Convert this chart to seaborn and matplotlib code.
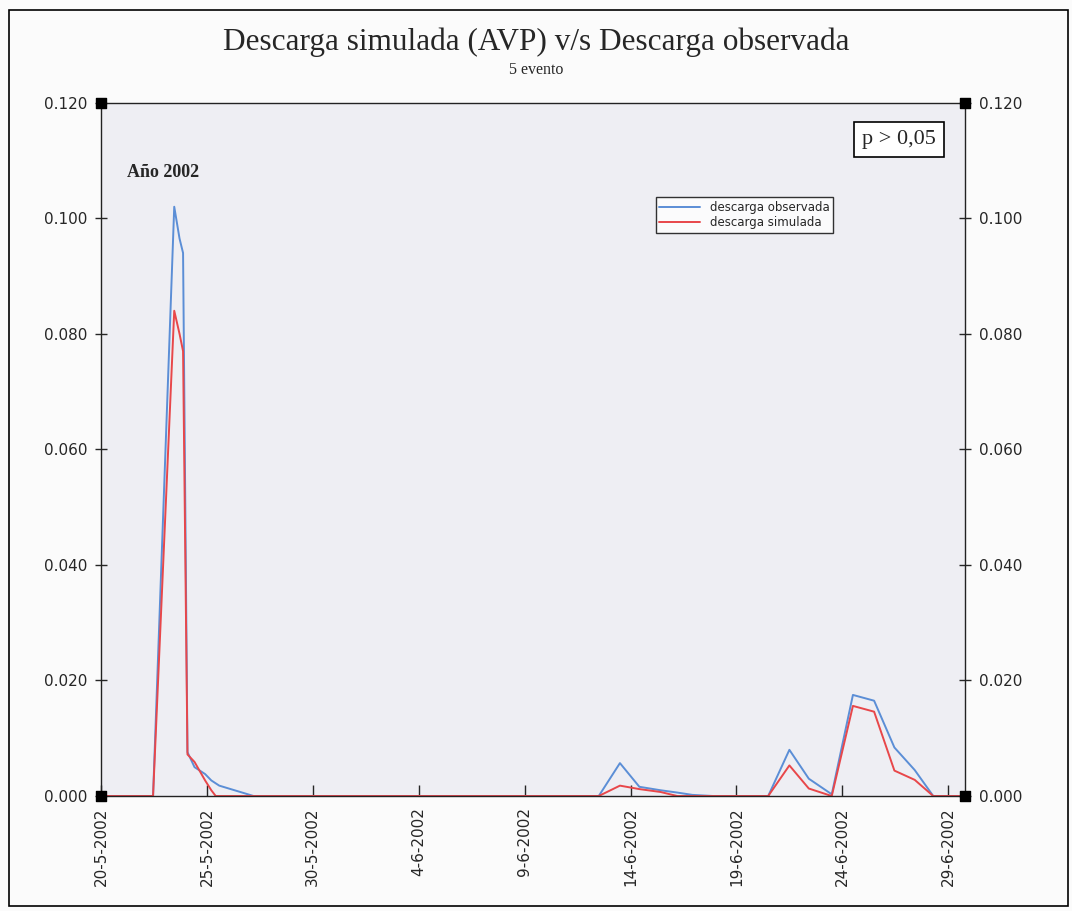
import numpy as np
import pandas as pd
import matplotlib
matplotlib.use("Agg")
import matplotlib.pyplot as plt
import matplotlib.patches as mpatches
import seaborn as sns

# Time stamps of the points (both series share them)
times = [
    "2002-05-20 00:00", "2002-05-22 11:00", "2002-05-23 11:00", "2002-05-23 17:00",
    "2002-05-23 21:00", "2002-05-24 02:00", "2002-05-24 10:00", "2002-05-24 22:00",
    "2002-05-25 05:00", "2002-05-25 10:00", "2002-05-25 14:00", "2002-05-27 05:00",
    "2002-06-12 12:00", "2002-06-13 12:00", "2002-06-14 10:00", "2002-06-15 10:00",
    "2002-06-16 05:00", "2002-06-16 22:00", "2002-06-17 22:00", "2002-06-20 12:00",
    "2002-06-21 12:00", "2002-06-22 10:00", "2002-06-23 12:00", "2002-06-24 12:00",
    "2002-06-25 12:00", "2002-06-26 11:00", "2002-06-27 10:00", "2002-06-28 07:00",
    "2002-06-29 19:00",
]
observada = [
    0.0, 0.0, 0.102, 0.0965, 0.094, 0.0076, 0.0050, 0.0038,
    0.0027, 0.0022, 0.0018, 0.0, 0.0, 0.0057, 0.0016, 0.0010,
    0.0006, 0.0002, 0.0, 0.0, 0.0080, 0.0030, 0.0003, 0.0175,
    0.0165, 0.0084, 0.0045, 0.0, 0.0,
]
simulada = [
    0.0, 0.0, 0.084, 0.080, 0.077, 0.0072, 0.0059, 0.0027,
    0.0010, 0.0, 0.0, 0.0, 0.0, 0.0018, 0.0012, 0.0007,
    0.0, 0.0, 0.0, 0.0, 0.0053, 0.0013, 0.0, 0.0156,
    0.0146, 0.0044, 0.0028, 0.0, 0.0,
]

tick_dates = ["2002-05-20", "2002-05-25", "2002-05-30", "2002-06-04", "2002-06-09",
              "2002-06-14", "2002-06-19", "2002-06-24", "2002-06-29"]
tick_labels = ["20-5-2002", "25-5-2002", "30-5-2002", "4-6-2002", "9-6-2002",
               "14-6-2002", "19-6-2002", "24-6-2002", "29-6-2002"]
y_ticks = [0.0, 0.02, 0.04, 0.06, 0.08, 0.10, 0.12]

t = pd.to_datetime(times)
df = pd.concat([
    pd.DataFrame({"fecha": t, "descarga": observada, "serie": "descarga observada"}),
    pd.DataFrame({"fecha": t, "descarga": simulada, "serie": "descarga simulada"}),
])

sns.set_style("ticks")
plt.rcParams["font.family"] = ["DejaVu Sans"]

fig = plt.figure(figsize=(10.72, 9.11), dpi=100)
fig.patch.set_facecolor("#fbfbfb")
ax = fig.add_axes([0.0942, 0.1262, 0.806, 0.761])
ax.set_facecolor("#eeeef3")

sns.lineplot(data=df, x="fecha", y="descarga", hue="serie",
             palette={"descarga observada": "#5b8ed6", "descarga simulada": "#e8474a"},
             linewidth=1.4, ax=ax, estimator=None, sort=False)

ax.set_xlim(pd.Timestamp("2002-05-20 00:00"), pd.Timestamp("2002-06-29 19:00"))
ax.set_ylim(0, 0.12)
ax.set_xticks(pd.to_datetime(tick_dates))
ax.set_xticklabels(tick_labels, rotation=90, fontsize=11)
ax.set_yticks(y_ticks)
ax.set_yticklabels([f"{v:.3f}" for v in y_ticks], fontsize=11)
ax.tick_params(axis="y", which="both", direction="inout", length=8, width=1,
               left=True, right=True, labelleft=True, labelright=True, pad=6)
ax.tick_params(axis="x", direction="in", length=8, width=1, pad=8)
ax.set_xlabel("")
ax.set_ylabel("")
for s in ax.spines.values():
    s.set_visible(True)
    s.set_linewidth(1.0)
    s.set_color("#222222")

# corner markers
ax.scatter([0, 0, 1, 1], [0, 1, 0, 1], marker="s", s=60, color="black",
           transform=ax.transAxes, clip_on=False, zorder=5)

leg = ax.legend(loc="upper left", bbox_to_anchor=(0.635, 0.872), fontsize=8.5,
                frameon=True, fancybox=False, edgecolor="black", handlelength=3.5,
                borderpad=0.3, labelspacing=0.2)
leg.get_frame().set_linewidth(1.0)
leg.get_frame().set_facecolor("white")

ax.text(0.03, 0.9, "Año 2002", transform=ax.transAxes, fontsize=13,
        fontweight="bold", family="Liberation Serif", va="center")
ax.text(0.9235, 0.947, "p > 0,05", transform=ax.transAxes, fontsize=16,
        family="Liberation Serif", ha="center", va="center",
        bbox=dict(boxstyle="square,pad=0.35", facecolor="white", edgecolor="black", linewidth=1.2))

fig.text(0.5, 0.954, "Descarga simulada (AVP) v/s Descarga observada",
         ha="center", va="center", fontsize=22.5, family="Liberation Serif")
fig.text(0.5, 0.923, "5 evento", ha="center", va="center", fontsize=11.5,
         family="Liberation Serif")

fig.patches.append(mpatches.Rectangle((0.008, 0.006), 0.988, 0.983, transform=fig.transFigure,
                                      fill=False, edgecolor="black", linewidth=1.2))

fig.savefig("out.png", dpi=100)
